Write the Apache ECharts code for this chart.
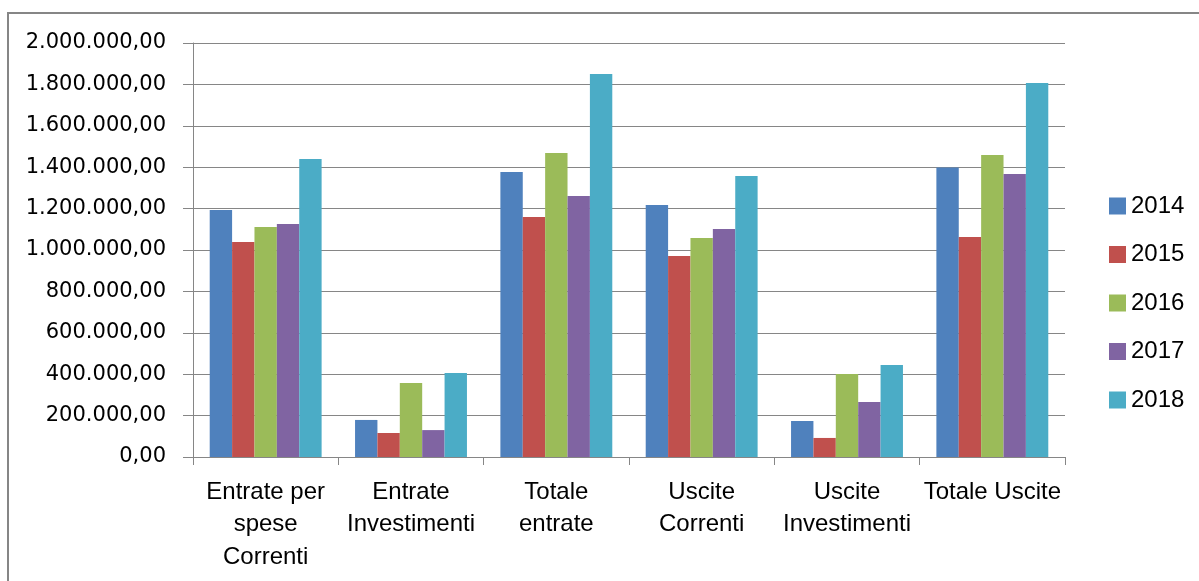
<!DOCTYPE html>
<html>
<head>
<meta charset="utf-8">
<script src="https://cdn.jsdelivr.net/npm/echarts@6/dist/echarts.min.js"></script>
<style>
html,body{margin:0;padding:0;background:#fff;}
#c{width:1199px;height:581px;}
</style>
</head>
<body>
<div id="c"></div>
<script>
const categories = ["Entrate per\nspese\nCorrenti", "Entrate\nInvestimenti", "Totale\nentrate", "Uscite\nCorrenti", "Uscite\nInvestimenti", "Totale Uscite"];
const years = ["2014", "2015", "2016", "2017", "2018"];
const v2014 = [1193000, 179000, 1377000, 1217000, 174000, 1398000];
const v2015 = [1039000, 116000, 1159000, 971000, 92000, 1063000];
const v2016 = [1111000, 357000, 1469000, 1058000, 401000, 1459000];
const v2017 = [1126000, 130000, 1261000, 1101000, 266000, 1367000];
const v2018 = [1440000, 406000, 1850000, 1357000, 444000, 1807000];
const yTicks = { min: 0, max: 2000000, interval: 200000 };

const seriesData = [v2014, v2015, v2016, v2017, v2018];
const colors = ["#4F81BD", "#C0504D", "#9BBB59", "#8064A2", "#4BACC6"];

function fmt(v) {
  const s = Math.round(v).toString().replace(/\B(?=(\d{3})+(?!\d))/g, ".");
  return s + ",00";
}

const chart = echarts.init(document.getElementById('c'));
chart.setOption({
  animation: false,
  color: colors,
  textStyle: { fontFamily: "Liberation Sans" },
  graphic: [{
    type: 'rect',
    shape: { x: 8, y: 13, width: 1300, height: 700 },
    style: { fill: 'none', stroke: '#868686', lineWidth: 2 },
    silent: true, z: -1
  }],
  grid: { left: 193, right: 134, top: 43, bottom: 124 },
  legend: {
    orient: 'vertical',
    left: 1104,
    top: 189,
    itemWidth: 17,
    itemHeight: 17,
    itemGap: 24.5,
    icon: 'rect',
    textStyle: { fontSize: 24, color: '#000', lineHeight: 24, fontFamily: "Liberation Sans" },
    data: years
  },
  xAxis: {
    type: 'category',
    data: categories,
    axisLine: { lineStyle: { color: '#868686', width: 1 } },
    axisTick: { show: true, length: 8, lineStyle: { color: '#868686' } },
    axisLabel: { color: '#000', fontSize: 24, lineHeight: 32.5, margin: 19, interval: 0, fontFamily: "Liberation Sans" }
  },
  yAxis: {
    type: 'value',
    min: yTicks.min, max: yTicks.max, interval: yTicks.interval,
    axisLine: { show: true, lineStyle: { color: '#868686', width: 1 } },
    axisTick: { show: true, length: 10, lineStyle: { color: '#868686' } },
    splitLine: { lineStyle: { color: '#868686', width: 1 } },
    axisLabel: { color: '#000', fontSize: 21, margin: 27, formatter: fmt, fontFamily: "DejaVu Sans" }
  },
  series: years.map((y, i) => ({
    name: y,
    type: 'bar',
    data: seriesData[i],
    barGap: '0%',
    barCategoryGap: '23%'
  }))
});
</script>
</body>
</html>
